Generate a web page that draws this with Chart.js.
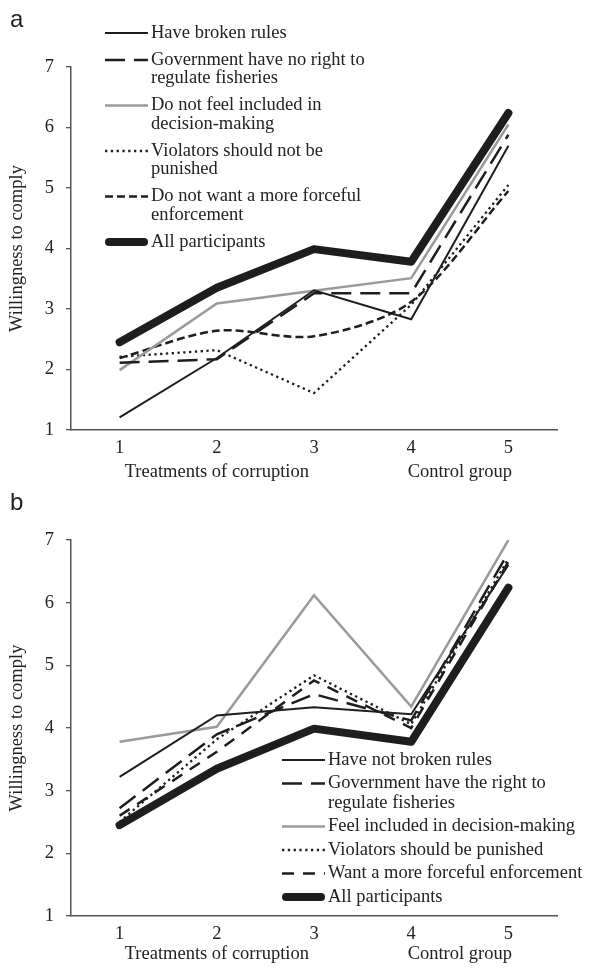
<!DOCTYPE html>
<html>
<head>
<meta charset="utf-8">
<script src="https://cdn.jsdelivr.net/npm/chart.js@4.4.1/dist/chart.umd.min.js"></script>
<style>
  html, body { margin: 0; padding: 0; background: #fff; }
  #wrap { position: relative; width: 589px; height: 973px; }
  .panel { position: absolute; left: 0; width: 589px; }
</style>
</head>
<body>
<div id="wrap">
  <div class="panel" style="top:0;height:486px"><canvas id="chartA"></canvas></div>
  <div class="panel" style="top:486px;height:487px"><canvas id="chartB"></canvas></div>
</div>
<script>
// categories and tick labels
const treatments = ['1', '2', '3', '4', '5'];
const yTicks = [1, 2, 3, 4, 5, 6, 7];
const groupLabels = ['Treatments of corruption', 'Control group'];
const groupFirst = [0, 3];
const groupLast = [2, 4];

// panel a
const labelsA = [
  'Have broken rules',
  'Government have no right to\nregulate fisheries',
  'Do not feel included in\ndecision-making',
  'Violators should not be\npunished',
  'Do not want a more forceful\nenforcement',
  'All participants'
];
const brokenA      = [1.21, 2.19, 3.31, 2.83, 5.70];
const noRightA     = [2.11, 2.17, 3.26, 3.26, 5.88];
const notIncludedA = [1.99, 3.09, 3.30, 3.51, 6.05];
const notPunishA   = [2.21, 2.32, 1.61, 3.07, 5.05];
const notForceA    = [2.19, 2.64, 2.55, 3.12, 4.95];
const allA         = [2.45, 3.35, 3.99, 3.78, 6.24];

// panel b
const labelsB = [
  'Have not broken rules',
  'Government have the right to\nregulate fisheries',
  'Feel included in decision-making',
  'Violators should be punished',
  'Want a more forceful enforcement',
  'All participants'
];
const notBrokenB = [3.22, 4.20, 4.33, 4.22, 6.60];
const rightB     = [2.72, 3.90, 4.54, 4.12, 6.80];
const includedB  = [3.78, 4.02, 6.12, 4.34, 7.00];
const punishB    = [2.50, 3.82, 4.84, 4.06, 6.70];
const forceB     = [2.60, 3.62, 4.76, 4.00, 6.65];
const allB       = [2.45, 3.35, 3.99, 3.78, 6.24];

const INK = '#1e1e1e';
const GREY = '#9a9a9a';
const AXIS = '#555';
const SERIF = 'Liberation Serif';
const font = { family: SERIF, size: 18.5 };

function styles(shortDash) {
  return [
    { borderColor: INK, borderWidth: 2 },
    { borderColor: INK, borderWidth: 2.5, borderDash: [20, 9] },
    { borderColor: GREY, borderWidth: 2.5 },
    { borderColor: INK, borderWidth: 2.3, borderDash: [2.3, 3.5] },
    { borderColor: INK, borderWidth: 2.5, borderDash: shortDash },
    { borderColor: INK, borderWidth: 8, borderCapStyle: 'round', borderJoinStyle: 'round', order: 0 }
  ];
}

// panel letter, group labels under the x axis, and the inset legend
const extras = {
  id: 'extras',
  afterDraw(chart, args, opts) {
    const ctx = chart.ctx;
    const xs = chart.scales.x;
    ctx.save();
    ctx.fillStyle = '#222';
    ctx.textBaseline = 'middle';

    ctx.font = '24px "Liberation Sans"';
    ctx.textAlign = 'left';
    ctx.fillText(opts.letter, 10, opts.letterY);

    ctx.font = '18.5px "' + SERIF + '"';
    ctx.textAlign = 'center';
    groupLabels.forEach((g, i) => {
      const cx = (xs.getPixelForValue(groupFirst[i]) + xs.getPixelForValue(groupLast[i])) / 2;
      ctx.fillText(g, cx, chart.chartArea.bottom + opts.groupDy);
    });

    ctx.textAlign = 'left';
    let y = opts.legendY;
    chart.data.datasets.forEach(ds => {
      ctx.save();
      ctx.strokeStyle = ds.borderColor;
      ctx.lineWidth = ds.borderWidth;
      ctx.setLineDash(ds.borderDash || []);
      ctx.lineCap = ds.borderCapStyle || 'butt';
      const pad = ds.borderCapStyle === 'round' ? ds.borderWidth / 2 : 0;
      ctx.beginPath();
      ctx.moveTo(opts.legendX + pad, y);
      ctx.lineTo(opts.legendX + 43 - pad, y);
      ctx.stroke();
      ctx.restore();
      const lines = ds.label.split('\n');
      lines.forEach((t, k) => ctx.fillText(t, opts.legendX + 46, y + k * opts.lineH));
      y += lines.length * opts.lineH + opts.gap;
    });
    ctx.restore();
  }
};

function makeChart(id, labels, series, shortDash, topPad, xHeight, extraOpts) {
  const st = styles(shortDash);
  const datasets = series.map((data, i) => Object.assign({
    label: labels[i],
    data: data,
    fill: false,
    tension: 0,
    pointRadius: 0,
    order: 1
  }, st[i]));
  if (extraOpts.smooth !== undefined) datasets[extraOpts.smooth].tension = 0.3;

  return new Chart(document.getElementById(id), {
    type: 'line',
    data: { labels: treatments, datasets: datasets },
    options: {
      responsive: true,
      maintainAspectRatio: false,
      animation: false,
      layout: { padding: { left: 0, right: 32, top: topPad, bottom: 0 } },
      plugins: {
        legend: { display: false },
        tooltip: { enabled: false },
        extras: extraOpts
      },
      scales: {
        x: {
          type: 'category',
          offset: true,
          afterFit: s => { s.height = xHeight; },
          grid: { display: false, drawTicks: false, tickLength: 0 },
          border: { display: true, color: AXIS, width: 1.5 },
          ticks: { font: font, color: '#222', padding: 7, maxRotation: 0 }
        },
        y: {
          min: 1,
          max: 7,
          afterBuildTicks: s => { s.ticks = yTicks.map(v => ({ value: v })); },
          afterFit: s => { s.width = 71; },
          grid: { drawOnChartArea: false, tickLength: 5, color: AXIS, lineWidth: 1.3 },
          border: { color: AXIS, width: 1.5 },
          ticks: { font: font, color: '#222', padding: 12 },
          title: { display: true, text: 'Willingness to comply', font: font, color: '#222', padding: { top: 6, bottom: 0 } }
        }
      }
    },
    plugins: [extras]
  });
}

makeChart('chartA', labelsA,
  [brokenA, noRightA, notIncludedA, notPunishA, notForceA, allA],
  [8, 4], 67, 56,
  { letter: 'a', letterY: 20, legendX: 105, legendY: 33, lineH: 18.5, gap: 8.5, smooth: 4, groupDy: 42 });

makeChart('chartB', labelsB,
  [notBrokenB, rightB, includedB, punishB, forceB, allB],
  [12, 9], 54, 57,
  { letter: 'b', letterY: 17, legendX: 282, legendY: 274, lineH: 19.5, gap: 4, groupDy: 38 });
</script>
</body>
</html>
